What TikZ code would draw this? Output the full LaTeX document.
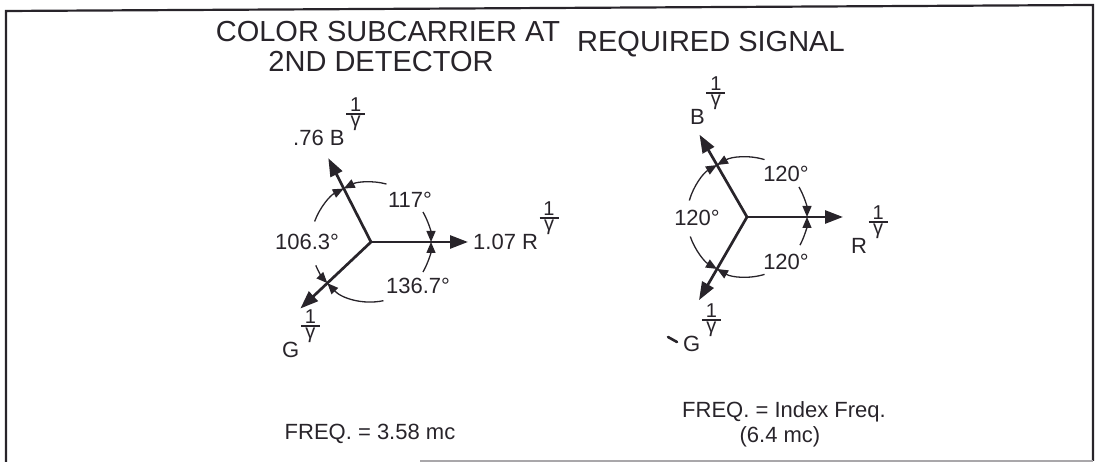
\documentclass[tikz,border=0pt]{standalone}
\usepackage{fontspec}
\setmainfont{Liberation Sans}
\usetikzlibrary{arrows.meta,calc}
\definecolor{ink}{RGB}{40,36,42}
\newcommand{\ifrac}{\kern1.5pt\raisebox{19pt}{\fontsize{20}{20}\selectfont\vbox{\offinterlineskip\halign{\hfil##\hfil\cr 1\cr\noalign{\kern2pt}\rule{19pt}{1.6pt}\cr\noalign{\kern1.5pt}γ\cr}}}}
\tikzset{
  vec/.style={draw=ink, line width=2.7pt, -{Triangle[length=18pt,width=13pt]}},
  ang/.style={draw=ink, line width=1.3pt, -{Triangle[length=11pt,width=9pt]}},
  lbl/.style={text=ink, font=\fontsize{22}{24}\selectfont, inner sep=0pt},
  ttl/.style={text=ink, font=\fontsize{29}{32}\selectfont, inner sep=0pt},
  frameline/.style={draw=ink, line width=2.2pt},
}
\begin{document}
\begin{tikzpicture}[x=1pt,y=1pt]
\useasboundingbox (0,0) rectangle (1098,462);
% frame
\draw[frameline] (6,0) -- (6,451) -- (1093,457) -- (1093,1);
\draw[draw=ink!40, line width=1.2pt] (420,1) -- (1093,1);

% titles
\node[ttl, anchor=base] (t1) at (388,420) {COLOR SUBCARRIER AT};
\node[ttl, anchor=base] (t2) at (381,390) {2ND DETECTOR};
\node[ttl, anchor=base west] (t3) at (577,410) {REQUIRED SIGNAL};

% ---------- left diagram ----------
\coordinate (c1) at (371,220);
\coordinate (c1R) at (468,220);
\coordinate (c1B) at ($(c1)+(117:94)$);
\coordinate (c1G) at ($(c1)+(223.3:97)$);
\draw[vec] (c1) -- (c1R);
\draw[vec] (c1) -- (c1B);
\draw[vec] (c1) -- (c1G);
% angle arcs
\draw[ang] ($(c1)+(75:60)$) arc[start angle=75, end angle=117, radius=60pt];
\draw[ang] ($(c1)+(30:60)$) arc[start angle=30, end angle=0, radius=60pt];
\draw[ang] ($(c1)+(160:60)$) arc[start angle=160, end angle=117, radius=60pt];
\draw[ang] ($(c1)+(203:60)$) arc[start angle=203, end angle=223.3, radius=60pt];
\draw[ang] ($(c1)+(282:60)$) arc[start angle=282, end angle=223.3, radius=60pt];
\draw[ang] ($(c1)+(330:60)$) arc[start angle=330, end angle=360, radius=60pt];
\node[lbl] (a117) at (410,262) {117°};
\node[lbl] (a106) at (307,220) {106.3°};
\node[lbl] (a136) at (418,176) {136.7°};
\node[lbl, anchor=base west] (lB) at (293,316) {.76 B\ifrac};
\node[lbl, anchor=base west] (lR) at (473,212) {1.07 R\ifrac};
\node[lbl, anchor=base west] (lG) at (282,104) {G\ifrac};

% ---------- right diagram ----------
\coordinate (c2) at (747,245);
\coordinate (c2R) at (843,245);
\coordinate (c2B) at ($(c2)+(120:95)$);
\coordinate (c2G) at ($(c2)+(240:96)$);
\draw[vec] (c2) -- (c2R);
\draw[vec] (c2) -- (c2B);
\draw[vec] (c2) -- (c2G);
\draw[ang] ($(c2)+(73:60)$) arc[start angle=73, end angle=120, radius=60pt];
\draw[ang] ($(c2)+(30:60)$) arc[start angle=30, end angle=0, radius=60pt];
\draw[ang] ($(c2)+(164:60)$) arc[start angle=164, end angle=120, radius=60pt];
\draw[ang] ($(c2)+(199:60)$) arc[start angle=199, end angle=240, radius=60pt];
\draw[ang] ($(c2)+(287:60)$) arc[start angle=287, end angle=240, radius=60pt];
\draw[ang] ($(c2)+(332:60)$) arc[start angle=332, end angle=360, radius=60pt];
\node[lbl] (b120a) at (786,288) {120°};
\node[lbl] (b120b) at (697,244) {120°};
\node[lbl] (b120c) at (786,200) {120°};
\node[lbl, anchor=base west] (rB) at (690,337) {B\ifrac};
\node[lbl, anchor=base west] (rR) at (851,208) {R\ifrac};
\node[lbl, anchor=base west] (rG) at (683,110) {G\ifrac};
\coordinate (m1) at (668,125);
\coordinate (m2) at (677,120);
\draw[draw=ink, line width=2.6pt, line cap=round] (m1) -- (m2);

% bottom captions
\node[lbl, anchor=base] (f1) at (370,22) {FREQ. = 3.58 mc};
\node[lbl, anchor=base] (f2) at (784,44) {FREQ. = Index Freq.};
\node[lbl, anchor=base] (f3) at (780,19) {(6.4 mc)};
\end{tikzpicture}
\end{document}
